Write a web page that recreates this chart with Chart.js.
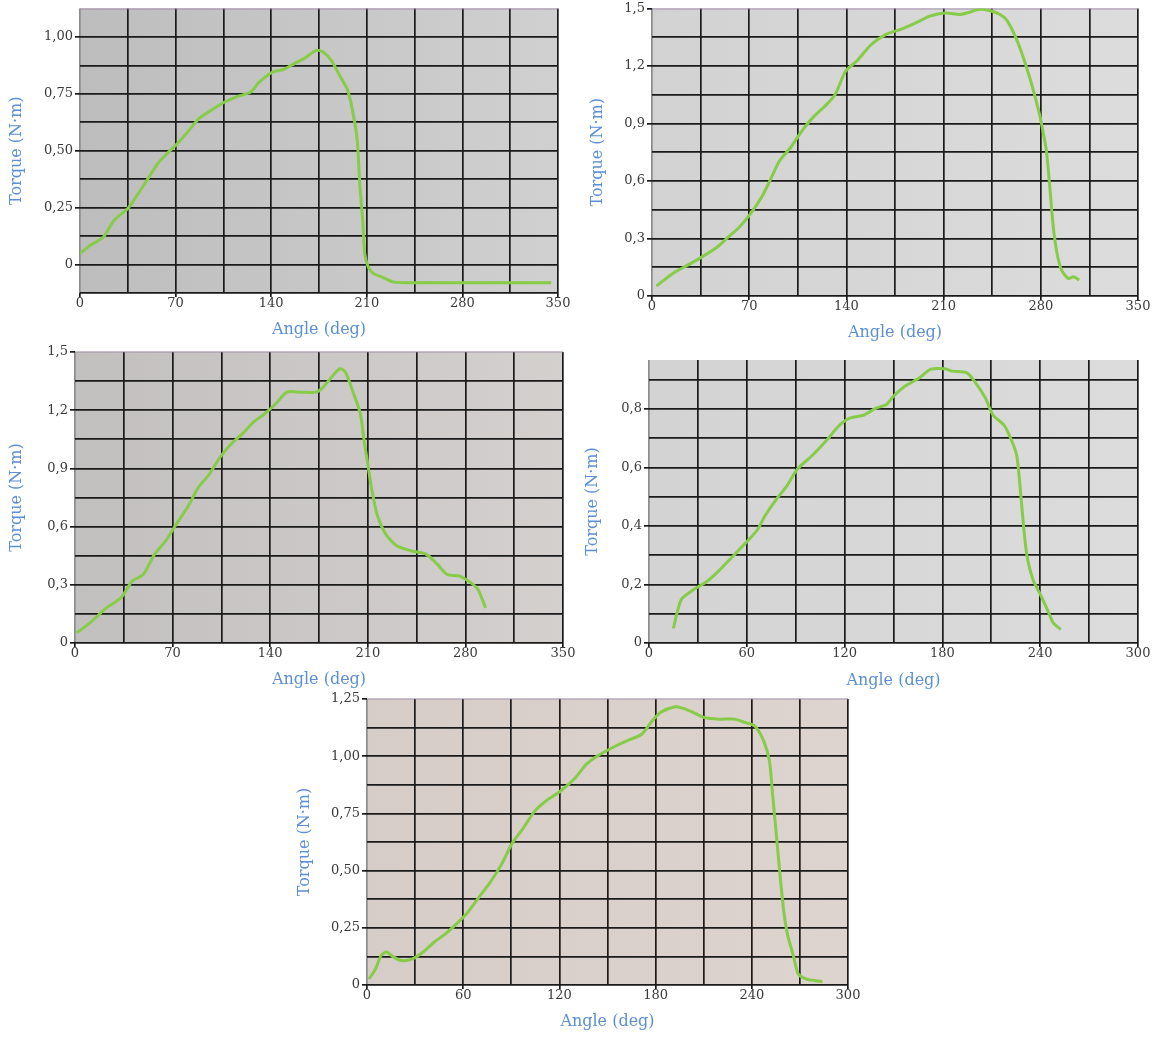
<!DOCTYPE html>
<html>
<head>
<meta charset="utf-8">
<script src="https://cdn.jsdelivr.net/npm/chart.js@4/dist/chart.umd.min.js"></script>
<style>
	body {
		margin: 0;
		background: #ffffff;
		width: 1154px;
		height: 1039px;
		position: relative;
		overflow: hidden;
	}
	canvas {
		position: absolute;
	}
</style>
</head>
<body>
<script>
// panel 1 (top left)
const angle1 = [0, 7.5, 17, 25, 35, 41, 49, 57, 65, 71, 79, 87, 96, 106, 114, 125, 131, 141, 149, 157, 165, 173, 178, 184, 190, 196, 200, 203, 205, 207, 208.5, 211, 215, 221, 229, 237.5, 260, 300, 345];
const torque1 = [0.048, 0.085, 0.12, 0.195, 0.246, 0.297, 0.37, 0.444, 0.495, 0.53, 0.583, 0.641, 0.678, 0.714, 0.736, 0.758, 0.8, 0.846, 0.857, 0.883, 0.909, 0.941, 0.934, 0.897, 0.832, 0.766, 0.663, 0.546, 0.341, 0.195, 0.048, -0.01, -0.04, -0.054, -0.076, -0.08, -0.08, -0.08, -0.08];
const angleTicks1 = [0, 70, 140, 210, 280, 350];
const torqueTicks1 = [0, 0.25, 0.5, 0.75, 1.0];

// panel 2 (top right)
const angle2 = [3.2, 15, 25.7, 36, 47, 55, 63, 71, 79, 85, 92, 100, 108, 116, 126, 132, 139.5, 147.5, 158, 168.6, 179, 190, 200, 211, 221.6, 227, 235, 242.8, 250.7, 256, 264, 272, 278.5, 281, 284, 286.5, 289, 291.7, 295, 299.7, 303.7, 307.6];
const torque2 = [0.052, 0.118, 0.161, 0.204, 0.256, 0.308, 0.36, 0.43, 0.516, 0.603, 0.707, 0.776, 0.862, 0.932, 1.001, 1.053, 1.174, 1.226, 1.313, 1.365, 1.391, 1.425, 1.46, 1.477, 1.469, 1.477, 1.495, 1.49, 1.469, 1.434, 1.313, 1.14, 0.966, 0.88, 0.759, 0.568, 0.36, 0.222, 0.135, 0.092, 0.1, 0.083];
const angleTicks2 = [0, 70, 140, 210, 280, 350];
const torqueTicks2 = [0, 0.3, 0.6, 0.9, 1.2, 1.5];

// panel 3 (middle left)
const angle3 = [1.3, 12, 22.5, 33, 41, 49, 57, 65, 72.6, 80.6, 88.5, 96.4, 104, 112, 120, 128, 136, 144, 152, 162.5, 173, 178, 185, 190, 194, 199, 204.7, 207, 210, 212.6, 216.6, 223, 231, 241.7, 252, 260, 267, 276, 284, 289, 294.5];
const torque3 = [0.052, 0.112, 0.181, 0.233, 0.319, 0.353, 0.457, 0.526, 0.612, 0.698, 0.802, 0.871, 0.957, 1.026, 1.078, 1.138, 1.181, 1.233, 1.293, 1.293, 1.293, 1.319, 1.379, 1.414, 1.396, 1.302, 1.181, 1.06, 0.922, 0.802, 0.664, 0.56, 0.5, 0.474, 0.457, 0.405, 0.353, 0.345, 0.31, 0.276, 0.181];
const angleTicks3 = [0, 70, 140, 210, 280, 350];
const torqueTicks3 = [0, 0.3, 0.6, 0.9, 1.2, 1.5];

// panel 4 (middle right)
const angle4 = [15, 17, 20, 28, 35, 42, 51, 60, 66.5, 71, 78, 84.6, 91, 100, 109, 116, 123, 132, 139, 145.5, 150, 157, 166, 172.6, 181.6, 186, 195, 199.6, 206.4, 211, 217.7, 222, 225.6, 227.8, 230, 232, 235.7, 240, 244.7, 248, 252.6];
const torque4 = [0.05, 0.098, 0.15, 0.185, 0.208, 0.242, 0.294, 0.346, 0.387, 0.433, 0.49, 0.537, 0.594, 0.64, 0.693, 0.739, 0.768, 0.779, 0.802, 0.814, 0.843, 0.877, 0.906, 0.935, 0.937, 0.929, 0.923, 0.895, 0.837, 0.779, 0.745, 0.698, 0.641, 0.525, 0.387, 0.294, 0.214, 0.167, 0.11, 0.069, 0.046];
const angleTicks4 = [0, 60, 120, 180, 240, 300];
const torqueTicks4 = [0, 0.2, 0.4, 0.6, 0.8];

// panel 5 (bottom)
const angle5 = [1.2, 5.3, 8.8, 12.2, 15.7, 21.4, 28.4, 35, 42, 49, 56, 63, 70, 77, 83.7, 90.6, 97.5, 104.5, 111.4, 120.6, 130, 136.7, 143.7, 153, 162, 171.3, 178, 183, 192, 196.7, 203.6, 210.5, 219.8, 229, 236, 241.7, 247.4, 251, 253, 255.5, 257.8, 260, 262.4, 265.9, 269, 274, 279.7, 284];
const torque5 = [0.026, 0.07, 0.129, 0.144, 0.126, 0.107, 0.114, 0.144, 0.188, 0.224, 0.268, 0.319, 0.385, 0.451, 0.525, 0.62, 0.686, 0.759, 0.803, 0.847, 0.906, 0.964, 1.001, 1.037, 1.067, 1.096, 1.155, 1.191, 1.216, 1.21, 1.191, 1.169, 1.162, 1.162, 1.147, 1.133, 1.067, 0.979, 0.832, 0.642, 0.466, 0.319, 0.217, 0.129, 0.048, 0.026, 0.019, 0.015];
const angleTicks5 = [0, 60, 120, 180, 240, 300];
const torqueTicks5 = [0, 0.25, 0.5, 0.75, 1.0, 1.25];

const LINE = "#86cc46";
const GRID = "#1a1a1a";
const TITLE = "#5b8fd6";

const plotBg = {
	id: "plotBg",
	beforeDraw(chart, args, opts) {
		const { ctx, chartArea: a } = chart;
		const g = ctx.createLinearGradient(a.left, 0, a.right, 0);
		g.addColorStop(0, opts.colors[0]);
		g.addColorStop(1, opts.colors[1]);
		ctx.save();
		ctx.fillStyle = g;
		ctx.fillRect(a.left, a.top, a.width, a.height);
		ctx.restore();
	},
};

function gridValues(min, max, step) {
	const out = [];
	for (let i = 0; min + i * step <= max + 1e-9; i++) out.push(+(min + i * step).toFixed(6));
	return out;
}

function isLabel(list, v) {
	return list.some((t) => Math.abs(t - v) < 1e-6);
}

function fmt(v, dec) {
	if (Math.abs(v) < 1e-9) return "0";
	return v.toFixed(dec).replace(".", ",");
}

function makePanel(p) {
	const cv = document.createElement("canvas");
	cv.width = p.box.w;
	cv.height = p.box.h;
	cv.style.left = p.box.x + "px";
	cv.style.top = p.box.y + "px";
	document.body.appendChild(cv);

	const yW = p.plot.l - p.box.x;
	const xH = p.box.y + p.box.h - p.plot.b;
	const titleFont = { family: "DejaVu Serif", size: 16, lineHeight: 1.2 };
	const tickFont = { family: "DejaVu Serif", size: 13, lineHeight: 1 };
	const xStep = p.xTicks[1] - p.xTicks[0];
	const yStep = p.yTicks[1] - p.yTicks[0];
	const xGrid = gridValues(p.xMin, p.xMax, xStep / 2);
	const yGrid = gridValues(p.yMin, p.yMax, yStep / 2);

	new Chart(cv, {
		type: "line",
		data: {
			datasets: [
				{
					data: p.angle.map((a, i) => ({ x: a, y: p.torque[i] })),
					borderColor: LINE,
					borderWidth: 3,
					pointRadius: 0,
					tension: 0.25,
					fill: false,
				},
			],
		},
		options: {
			responsive: false,
			animation: false,
			layout: {
				padding: {
					left: 0,
					top: p.plot.t - p.box.y,
					right: p.box.x + p.box.w - p.plot.r,
					bottom: 0,
				},
			},
			plugins: {
				legend: { display: false },
				tooltip: { enabled: false },
				plotBg: { colors: p.bg },
			},
			scales: {
				x: {
					type: "linear",
					min: p.xMin,
					max: p.xMax,
					afterBuildTicks: (s) => {
						s.ticks = xGrid.map((v) => ({ value: v }));
					},
					afterFit: (s) => {
						s.height = xH;
					},
					ticks: {
						autoSkip: false,
						maxRotation: 0,
						padding: 0,
						color: "#3a3a3a",
						font: tickFont,
						callback: (v) => (isLabel(p.xTicks, v) ? String(v) : ""),
					},
					grid: {
						color: (c) => (c.tick && Math.abs(c.tick.value - p.xMin) < 1e-6 ? "#8c8c8c" : GRID),
						lineWidth: 1.7,
						tickLength: 4,
						tickColor: (c) => (c.tick && isLabel(p.xTicks, c.tick.value) ? GRID : "rgba(0,0,0,0)"),
					},
					border: { display: false },
					title: {
						display: true,
						text: "Angle (deg)",
						color: TITLE,
						font: titleFont,
						padding: { top: 0, bottom: p.box.y + p.box.h - p.xTitleY - 9.6 },
					},
				},
				y: {
					type: "linear",
					min: p.yMin,
					max: p.yMax,
					afterBuildTicks: (s) => {
						s.ticks = yGrid.map((v) => ({ value: v }));
					},
					afterFit: (s) => {
						s.width = yW;
					},
					ticks: {
						autoSkip: false,
						padding: 2,
						color: "#3a3a3a",
						font: tickFont,
						callback: (v) => (isLabel(p.yTicks, v) ? fmt(v, p.dec) : ""),
					},
					grid: {
						color: (c) => (c.tick && Math.abs(c.tick.value - p.yMax) < 1e-6 ? "rgba(150,130,160,0.5)" : GRID),
						lineWidth: 1.7,
						tickLength: 5,
						tickColor: (c) => (c.tick && isLabel(p.yTicks, c.tick.value) ? GRID : "rgba(0,0,0,0)"),
					},
					border: { display: false },
					title: {
						display: true,
						text: "Torque (N·m)",
						color: TITLE,
						font: titleFont,
						padding: { top: p.yTitleX - p.box.x - 9.6, bottom: 0 },
					},
				},
			},
		},
		plugins: [plotBg],
	});
}

makePanel({
	angle: angle1, torque: torque1, xTicks: angleTicks1, yTicks: torqueTicks1,
	xMin: 0, xMax: 350, yMin: -0.125, yMax: 1.125, dec: 2,
	box: { x: 0, y: 0, w: 577, h: 345 },
	plot: { l: 80, t: 8, r: 558, b: 293 },
	xTitleY: 330, yTitleX: 17,
	bg: ["#bdbdbd", "#d0d0d0"],
});

makePanel({
	angle: angle2, torque: torque2, xTicks: angleTicks2, yTicks: torqueTicks2,
	xMin: 0, xMax: 350, yMin: 0, yMax: 1.5, dec: 1,
	box: { x: 577, y: 0, w: 577, h: 345 },
	plot: { l: 652, t: 7, r: 1138, b: 296 },
	xTitleY: 333, yTitleX: 598,
	bg: ["#d2d2d2", "#dcdcdc"],
});

makePanel({
	angle: angle3, torque: torque3, xTicks: angleTicks3, yTicks: torqueTicks3,
	xMin: 0, xMax: 350, yMin: 0, yMax: 1.5, dec: 1,
	box: { x: 0, y: 340, w: 577, h: 350 },
	plot: { l: 75, t: 352, r: 563, b: 643 },
	xTitleY: 680, yTitleX: 17,
	bg: ["#c2c0bf", "#d3d0ce"],
});

makePanel({
	angle: angle4, torque: torque4, xTicks: angleTicks4, yTicks: torqueTicks4,
	xMin: 0, xMax: 300, yMin: 0, yMax: 0.967, dec: 1,
	box: { x: 577, y: 340, w: 577, h: 350 },
	plot: { l: 649, t: 360, r: 1138, b: 643 },
	xTitleY: 681, yTitleX: 593,
	bg: ["#d3d3d3", "#dcdcdc"],
});

makePanel({
	angle: angle5, torque: torque5, xTicks: angleTicks5, yTicks: torqueTicks5,
	xMin: 0, xMax: 300, yMin: 0, yMax: 1.25, dec: 2,
	box: { x: 290, y: 685, w: 580, h: 354 },
	plot: { l: 367, t: 699, r: 848, b: 985 },
	xTitleY: 1022, yTitleX: 305,
	bg: ["#d6ccc8", "#ddd4d0"],
});
</script>
</body>
</html>
